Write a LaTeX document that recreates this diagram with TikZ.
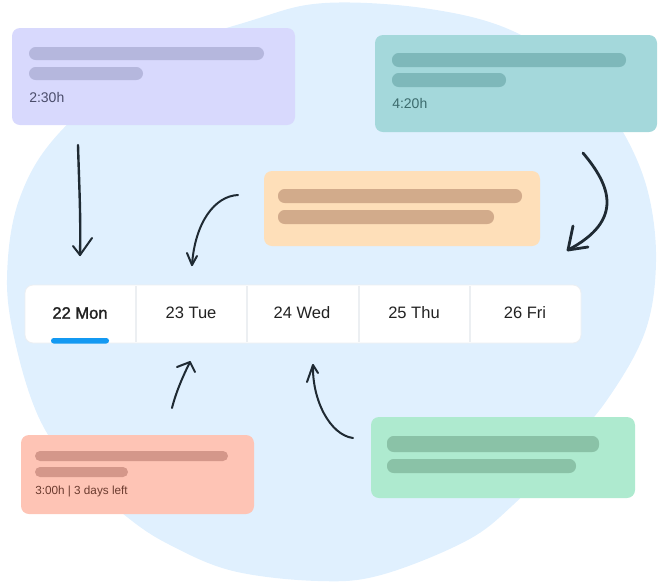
\documentclass[tikz,border=0pt]{standalone}
\usepackage{fontspec}
\setmainfont{Liberation Sans}
\newfontfamily\medfont[FakeBold=1.6]{Liberation Sans}
\definecolor{blob}{HTML}{E0F0FE}
\definecolor{cpurple}{HTML}{D8D9FD}
\definecolor{bpurple}{HTML}{B5B7DD}
\definecolor{tpurple}{HTML}{4B4D6B}
\definecolor{cteal}{HTML}{A4D8DB}
\definecolor{bteal}{HTML}{7EB8BA}
\definecolor{tteal}{HTML}{3C6B6D}
\definecolor{cpeach}{HTML}{FEDFB9}
\definecolor{bpeach}{HTML}{D2AB8B}
\definecolor{cred}{HTML}{FEC4B5}
\definecolor{bred}{HTML}{D4978A}
\definecolor{tred}{HTML}{6B3B2F}
\definecolor{cgreen}{HTML}{AEEACF}
\definecolor{bgreen}{HTML}{8AC2A7}
\definecolor{ink}{HTML}{1F2A33}
\definecolor{daytxt}{HTML}{222222}
\definecolor{divider}{HTML}{ECEFF2}
\definecolor{accent}{HTML}{1399F2}
\begin{document}
\begin{tikzpicture}[x=0.75pt,y=-0.75pt,
  card/.style={rounded corners=6pt,inner sep=0pt,outer sep=0pt,anchor=north west,draw=none},
  bar/.style={rounded corners=5pt},
  smallbar/.style={rounded corners=3.75pt},
  daylbl/.style={font=\fontsize{12.4pt}{14pt}\selectfont,text=daytxt,inner sep=0pt},
  timelbl/.style={anchor=west,inner sep=0pt,font=\fontsize{10.5pt}{12pt}\selectfont},
  sketch/.style={draw=ink,line width=1.5pt,line cap=round,line join=round},
  sketchthick/.style={draw=ink,line width=2.1pt,line cap=round,line join=round}]
\useasboundingbox (0,0) rectangle (665,583);
% background blob
\fill[blob] plot[smooth cycle,tension=0.6] coordinates {
 (325,3) (430,9) (515,32) (585,82) (623,132) (648,192) (656,262) (645,332)
 (607,400) (560,455) (513,505) (466,541) (381,575) (318,581) (233,571)
 (170,545) (127,517) (75,470) (40,420) (17,350) (7,280) (19,200) (60,132)
 (150,58) (253,20)};
% cards
\node[card,fill=cpurple,minimum width=212.25pt,minimum height=72.75pt] (c1) at (12,28) {};
\fill[bpurple,bar] (29,47) rectangle (264,60);
\fill[bpurple,bar] (29,67) rectangle (143,80);
\node[timelbl,text=tpurple] (t1) at (29,97) {2:30h};

\node[card,fill=cteal,minimum width=211.5pt,minimum height=72.75pt] (c2) at (375,35) {};
\fill[bteal,bar] (392,53) rectangle (626,67);
\fill[bteal,bar] (392,73) rectangle (506,87);
\node[timelbl,text=tteal] (t2) at (392,103) {4:20h};

\node[card,fill=cpeach,minimum width=207pt,minimum height=56.25pt] (c3) at (264,171) {};
\fill[bpeach,bar] (278,189) rectangle (522,203);
\fill[bpeach,bar] (278,210) rectangle (494,224);

\node[card,fill=cred,minimum width=174.75pt,minimum height=59.25pt] (c4) at (21,435) {};
\fill[bred,smallbar] (35,451) rectangle (228,461);
\fill[bred,smallbar] (35,467) rectangle (128,477);
\node[timelbl,text=tred,font=\fontsize{8.8pt}{10pt}\selectfont] (t4) at (35,491) {3:00h | 3 days left};

\node[card,fill=cgreen,minimum width=198pt,minimum height=60.75pt] (c5) at (371,417) {};
\fill[bgreen,bar] (387,436) rectangle (599,452);
\fill[bgreen,bar] (387,459) rectangle (576,473);

% day strip
\node[card,fill=white,draw=divider,line width=0.6pt,minimum width=417pt,minimum height=43.5pt] (strip) at (25,285) {};
\foreach \xx in {136,247,359,470} \draw[divider,line width=0.8pt] (\xx,286) -- (\xx,342);
\fill[accent,rounded corners=2pt] (51,338) rectangle (109,343.5);
\node[daylbl,font=\fontsize{12.4pt}{14pt}\medfont] (d1) at (80,313) {22 Mon};
\node[daylbl] (d2) at (191,313) {23 Tue};
\node[daylbl] (d3) at (302,313) {24 Wed};
\node[daylbl] (d4) at (414,313) {25 Thu};
\node[daylbl] (d5) at (525,313) {26 Fri};

% sketched arrows
\coordinate (a1s) at (78,145); \coordinate (a1e) at (80,255);
\draw[sketch,line width=1.8pt] (a1s) .. controls (79,180) and (81,220) .. (a1e);
\draw[sketch] (73,246) -- (a1e) -- (92,238);

\coordinate (a2s) at (238,195); \coordinate (a2e) at (192,265);
\draw[sketch] (a2s) .. controls (215,196) and (195,222) .. (a2e);
\draw[sketch] (187,253) -- (a2e) -- (197,256);

\coordinate (a3s) at (583,153); \coordinate (a3e) at (568,250);
\draw[sketchthick] (a3s) .. controls (610,185) and (625,220) .. (a3e);
\draw[sketchthick] (573,226) -- (a3e) -- (588,247);

\coordinate (a4s) at (172,408); \coordinate (a4e) at (190,362);
\draw[sketch] (a4s) .. controls (176,392) and (183,376) .. (a4e);
\draw[sketch] (177,367) -- (a4e) -- (195,372);

\coordinate (a5s) at (353,438); \coordinate (a5e) at (313,365);
\draw[sketch] (a5s) .. controls (330,435) and (312,400) .. (a5e);
\draw[sketch] (307,382) -- (a5e) -- (318,373);
\end{tikzpicture}
\end{document}
